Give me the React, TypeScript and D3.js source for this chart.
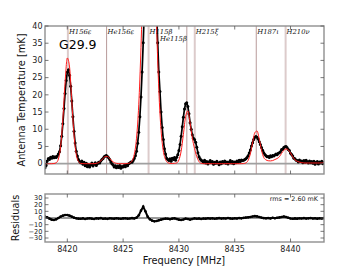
import React from "react";
import * as d3 from "d3";

// channel grid: data every 0.1 MHz, model / residuals every 0.2 MHz
const freqStart = 8418;
const dataStep = 0.1;
const modelStep = 0.2;

const dataTemp = [
  -1.2, -0.5, 0.8, 1.5, 1.2, 1.9, 1.6, 2.1, 1.7, 2.0, 1.8,
  2.2, 2.8, 3.5, 5.2, 8.0, 11.6, 16.0, 20.4, 24.2, 26.6, 27.3, 25.7, 22.5, 18.2, 13.6, 9.4, 6.0, 3.6, 2.2, 1.2, 0.6,
  0.3, 0.8, -0.2, 0.4, -0.6, 0.1, -0.9, -0.3, -1.0, -0.4, 0.2, -0.7, -0.2, 0.3, -0.5, 0.0, 0.4, 0.2, 0.8,
  1.2, 1.5, 2.0, 2.2, 2.4, 2.1, 1.7, 1.2, 0.5, 0.0,
  -0.4, -1.0, -0.6, -1.2, -0.7, -1.1, -0.5, -1.3, -0.8, -1.0, -0.5, -0.9, -0.3, -0.6, 0.0,
  0.2, 0.5, 0.4, 0.9, 1.5, 2.3, 3.6, 5.9, 9.1, 13.6, 19.4, 26.6, 35.1, 44.5, 54.3, 63.6, 71.6, 77.5, 80.6,
  80.6, 77.5, 71.6, 63.6, 54.3, 44.5, 35.1, 26.6, 21.0, 15.0, 10.5, 7.0, 4.3, 2.8, 1.6, 1.2,
  0.9, 1.4, 0.7, 1.6, 1.2, 1.8, 1.0,
  1.9, 2.6, 3.8, 5.6, 8.0, 10.7, 13.5, 15.9, 17.4, 17.7, 16.6, 14.5, 11.9,
  10.0, 8.4, 7.4, 7.0, 6.2, 4.8, 3.2, 2.0, 1.4, 1.0,
  0.8, 0.4, 1.0, 0.2, 0.6, -0.1, 0.5, 0.9, 0.3, 0.6, -0.2, 0.4, 0.1, 0.7, 0.2, -0.3, 0.5, 0.0, 0.6, 0.3,
  0.8, 0.1, 0.5, -0.1, 0.4, 0.9, 0.2, 0.6, 0.0, 0.5, 0.3, 0.8, 0.4, 1.0, 0.6, 1.1, 0.9,
  1.0, 1.2, 1.4,
  1.8, 2.3, 3.1, 4.0, 5.1, 6.1, 7.0, 7.7, 7.9, 7.7, 7.2, 6.4, 5.6, 4.7, 3.9, 3.2, 2.7, 2.3, 2.0, 2.1,
  1.8, 2.3, 2.0, 2.4, 2.2,
  2.5, 2.8, 2.6, 3.0, 3.2, 3.5, 4.1, 4.2, 4.7, 4.9, 5.0, 4.6, 4.1, 3.8, 3.0, 2.7, 2.2, 1.6, 1.4, 1.0,
  0.9, 0.5, 1.1, 0.6, 0.8, 0.3, 0.9, 0.4, 1.0, 0.5, 0.2, 0.8, 0.3, 0.6, 0.1, 0.7, -0.2, 0.4, 0.6, -0.1,
  0.5, 0.2, 0.7, 0.0, 0.4,
];

const modelTemp = [
  0.0, 0.0, 0.0, 0.0, 0.05, 0.26, 1.35, 4.97, 12.9, 23.7,
  30.7, 28.1, 18.2, 8.4, 2.7, 0.62, 0.1, 0.0, 0.0, 0.0,
  0.0, 0.0, 0.0, 0.1, 0.3, 0.8, 1.5, 2.1, 2.1, 1.5,
  0.8, 0.3, 0.1, 0.0, 0.0, 0.0, 0.0, 0.05, 0.2, 0.8,
  2.7, 7.4, 17.1, 33.7, 56.4, 80.1, 96.6, 99.0, 86.2, 63.7,
  40.0, 21.3, 9.7, 3.7, 1.2, 0.3, 0.1, 0.05, 0.1, 0.22,
  1.1, 3.65, 8.5, 13.7, 15.3, 11.8, 7.5, 4.4, 2.05, 0.6,
  0.1, 0.0, 0.0, 0.0, 0.0, 0.0, 0.0, 0.0, 0.0, 0.0,
  0.0, 0.0, 0.0, 0.0, 0.0, 0.0, 0.0, 0.0, 0.0, 0.04,
  0.22, 0.95, 2.85, 6.0, 9.0, 9.5, 7.1, 3.9, 1.8, 1.1,
  0.85, 0.8, 0.9, 1.2, 1.5, 2.0, 3.0, 3.9, 4.3, 4.0,
  3.1, 2.0, 1.1, 0.7, 0.45, 0.3, 0.2, 0.2, 0.2, 0.2,
  0.2, 0.2, 0.2, 0.2, 0.2, 0.2,
];

const residuals = [
  2, 1, -1, -2.5, -3, -2, 0, 2, 3.5, 4.5, 4.5, 3.5, 2, 0.5, -0.5, -1,
  -1.2, -0.6, -1.5, -0.8, -0.3, -1.0, -1.4, -0.5, -0.9, -0.2, -1.1, -0.7, -1.3, -0.4, -0.8,
  -1.0, -0.3, -0.9, -1.2, -0.6, -0.4, -1.0, -0.8, -0.2, -0.6,
  0.5, 4, 11, 17, 10, 2, -2, -4, -5, -4.5, -3.5, -2.5, -1.5, -1,
  -1.2, -1.8, -1.0, -0.5, -1.5, -2.5, -3.0, -2.2, -1.0, -1.6, -2.4, -1.5, -0.6, -1.2, -0.8,
  -1.4, -0.7, -1.0, -0.3, -0.9, -0.5, -1.2, -0.6, -0.2, -0.9, -0.4, -0.8, -0.1, -0.6, -1.0,
  -0.3, -0.7, 0.0, -0.5, 0.2, 0.6, 1.0, 1.6, 2.2, 2.8, 2.4, 1.5, 0.6, -0.2, -0.5,
  -0.1, -0.6, 0.3, -0.3, 0.4, 0.9, 1.6, 2.2, 1.4, 0.4, -0.8, -1.2, -0.6, -1.0, -0.4,
  -0.8, -0.2, -0.9, -0.5, -0.1, -0.7, -0.3, -1.0, -0.4, -0.6, -0.2,
];

const lineNames = ["H156ε", "He156ε", "H115β", "He115β", "H215ξ", "H187ι", "H210ν"];
const lineFreqs = [8420.05, 8423.52, 8427.28, 8430.71, 8431.42, 8436.93, 8439.56];

const tempTicks = [0, 5, 10, 15, 20, 25, 30, 35, 40];
const residTicks = [30, 20, 10, 0, -10, -20, -30];
const freqTicks = [8420, 8425, 8430, 8435, 8440];
const sourceName = "G29.9";
const rmsLabel = "rms =  2.60 mK";

// styling
const font = "DejaVu Sans";
const spine = "#8f8f8f";
const tickCol = "#555";
const heavyLine = { stroke: "#dccbcb", width: 2 };
const lightLine = { stroke: "#b89a9a", width: 1 };
const lineStyle = [heavyLine, lightLine, heavyLine, lightLine, heavyLine, lightLine, heavyLine];

const L = 45, R = 324;
const T1 = 26, B1 = 174;
const T2 = 194, B2 = 242;

function Frame({ top, bottom }: { top: number; bottom: number }) {
  return (
    <rect x={L} y={top} width={R - L} height={bottom - top} fill="none" stroke={spine} strokeWidth={1.4} />
  );
}

export default function App() {
  const x = d3.scaleLinear().domain([8418, 8443]).range([L, R]);
  const y = d3.scaleLinear().domain([-3, 40]).range([B1, T1]);
  const yr = d3.scaleLinear().domain([-36, 36]).range([B2, T2]);

  const dataPath = d3
    .line<number>()
    .x((_, i) => x(freqStart + i * dataStep))
    .y((d) => y(d))(dataTemp) as string;

  const modelPath = d3
    .line<number>()
    .x((_, i) => x(freqStart + i * modelStep))
    .y((d) => y(d))
    .curve(d3.curveMonotoneX)(modelTemp) as string;

  const residPath = d3
    .line<number>()
    .x((_, i) => x(freqStart + i * modelStep))
    .y((d) => yr(d))(residuals) as string;

  const tk = 3.5;

  return (
    <svg width={360} height={270} style={{ position: "absolute", left: 0, top: 0 }} fontFamily={font}>
      <defs>
        <clipPath id="top-clip">
          <rect x={L} y={T1} width={R - L} height={B1 - T1} />
        </clipPath>
        <clipPath id="res-clip">
          <rect x={L} y={T2} width={R - L} height={B2 - T2} />
        </clipPath>
      </defs>

      {/* ---------- spectrum panel ---------- */}
      <g clipPath="url(#top-clip)">
        {lineFreqs.map((f, i) => (
          <line key={"v" + i} x1={x(f)} x2={x(f)} y1={T1} y2={B1} stroke={lineStyle[i].stroke} strokeWidth={lineStyle[i].width} />
        ))}
        <line x1={L} x2={R} y1={y(0)} y2={y(0)} stroke="#a0a0a0" strokeWidth={1.6} />
        <path d={dataPath} fill="none" stroke="#000" strokeWidth={1.7} strokeLinejoin="round" />
        {dataTemp.map((d, i) => (
          <circle key={"d" + i} cx={x(freqStart + i * dataStep)} cy={y(d)} r={1.5} fill="#000" />
        ))}
        <path d={modelPath} fill="none" stroke="#ff1a1a" strokeWidth={1} />
      </g>

      {lineNames.map((n, i) => {
        const lx = x(lineFreqs[i]);
        const lower = n === "He115β";
        return (
          <text
            key={"n" + i}
            x={lower ? lx : lx + 1}
            y={lower ? 40.5 : 33.5}
            textAnchor={lower ? "end" : "start"}
            fontFamily="DejaVu Serif"
            fontStyle="italic"
            fontSize={6.8}
            fill="#111"
          >
            {n}
          </text>
        );
      })}

      <text x={59} y={49} fontSize={12.5} fill="#000">{sourceName}</text>

      <Frame top={T1} bottom={B1} />
      {tempTicks.map((t) => (
        <g key={"yt" + t}>
          <line x1={L} x2={L + tk} y1={y(t)} y2={y(t)} stroke={tickCol} strokeWidth={0.8} />
          <line x1={R} x2={R - tk} y1={y(t)} y2={y(t)} stroke={tickCol} strokeWidth={0.8} />
          <text x={42.5} y={y(t)} dy="0.35em" textAnchor="end" fontSize={8} fill="#222">{t}</text>
        </g>
      ))}
      {freqTicks.map((f) => (
        <g key={"xt1" + f}>
          <line x1={x(f)} x2={x(f)} y1={B1} y2={B1 - tk} stroke={tickCol} strokeWidth={0.8} />
          <line x1={x(f)} x2={x(f)} y1={T1} y2={T1 + tk} stroke={tickCol} strokeWidth={0.8} />
        </g>
      ))}
      <text
        transform={`translate(25,${(T1 + B1) / 2}) rotate(-90)`}
        textAnchor="middle"
        fontSize={9.8}
        fill="#111"
      >
        Antenna Temperature [mK]
      </text>

      {/* ---------- residual panel ---------- */}
      <g clipPath="url(#res-clip)">
        <line x1={L} x2={R} y1={yr(0)} y2={yr(0)} stroke="#000" strokeWidth={0.8} />
        <path d={residPath} fill="none" stroke="#000" strokeWidth={2} />
        {residuals.map((d, i) => (
          <circle key={"r" + i} cx={x(freqStart + i * modelStep)} cy={yr(d)} r={1.3} fill="#000" />
        ))}
      </g>
      <Frame top={T2} bottom={B2} />
      {residTicks.map((t) => (
        <g key={"rt" + t}>
          <line x1={L} x2={L + tk} y1={yr(t)} y2={yr(t)} stroke={tickCol} strokeWidth={0.8} />
          <line x1={R} x2={R - tk} y1={yr(t)} y2={yr(t)} stroke={tickCol} strokeWidth={0.8} />
          <text x={42.5} y={yr(t)} dy="0.35em" textAnchor="end" fontSize={6.6} fill="#222">
            {t < 0 ? "−" + Math.abs(t) : t}
          </text>
        </g>
      ))}
      {freqTicks.map((f) => (
        <g key={"xt2" + f}>
          <line x1={x(f)} x2={x(f)} y1={B2} y2={B2 - tk} stroke={tickCol} strokeWidth={0.8} />
          <line x1={x(f)} x2={x(f)} y1={T2} y2={T2 + tk} stroke={tickCol} strokeWidth={0.8} />
          <text x={x(f)} y={251.5} textAnchor="middle" fontSize={8} fill="#222">{f}</text>
        </g>
      ))}
      <text x={318} y={201} textAnchor="end" fontSize={6.4} fill="#222">{rmsLabel}</text>
      <text
        transform={`translate(19,${(T2 + B2) / 2}) rotate(-90)`}
        textAnchor="middle"
        fontSize={9.8}
        fill="#111"
      >
        Residuals
      </text>
      <text x={184} y={264} textAnchor="middle" fontSize={9.8} fill="#111">Frequency [MHz]</text>
    </svg>
  );
}
